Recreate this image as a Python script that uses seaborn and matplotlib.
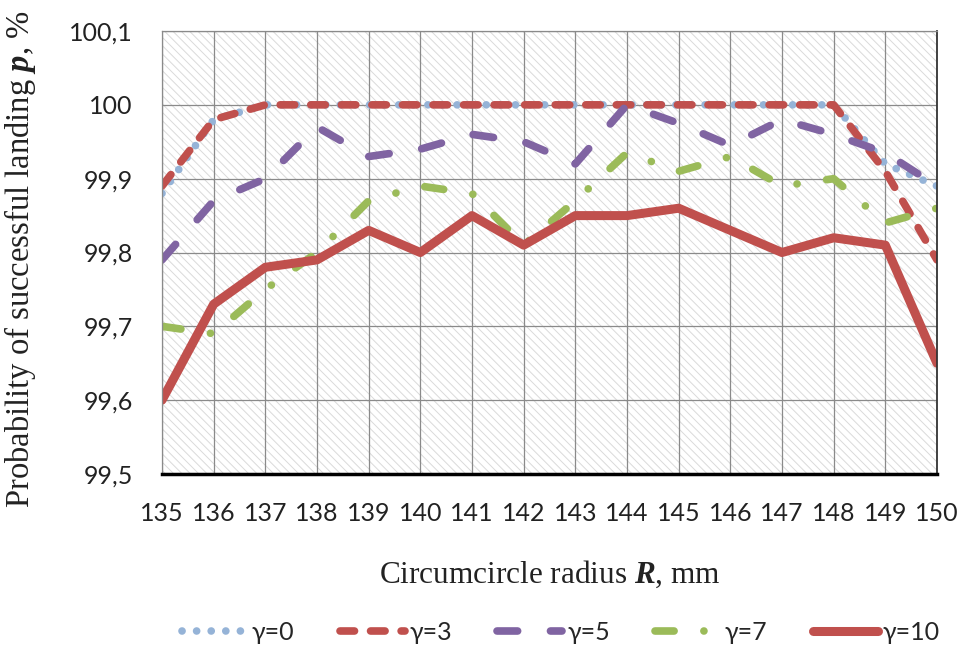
import numpy as np
import pandas as pd
import matplotlib
matplotlib.use("Agg")
import matplotlib.pyplot as plt
import seaborn as sns
from matplotlib.patches import Rectangle
from matplotlib.lines import Line2D
from matplotlib.ticker import FuncFormatter

# ---- data ----
radius = [135, 136, 137, 138, 139, 140, 141, 142, 143, 144, 145, 146, 147, 148, 149, 150]
p_g0 = [99.88, 99.98, 100, 100, 100, 100, 100, 100, 100, 100, 100, 100, 100, 100, 99.92, 99.89]
p_g3 = [99.89, 99.98, 100, 100, 100, 100, 100, 100, 100, 100, 100, 100, 100, 100, 99.91, 99.79]
p_g5 = [99.79, 99.87, 99.90, 99.97, 99.93, 99.94, 99.96, 99.95, 99.92, 100.0, 99.975, 99.945, 99.98, 99.96, 99.935, 99.89]
p_g7 = [99.70, 99.69, 99.75, 99.80, 99.87, 99.89, 99.88, 99.81, 99.87, 99.935, 99.91, 99.93, 99.89, 99.90, 99.84, 99.86]
p_g10 = [99.60, 99.73, 99.78, 99.79, 99.83, 99.80, 99.85, 99.81, 99.85, 99.85, 99.86, 99.83, 99.80, 99.82, 99.81, 99.65]
series_names = ["γ=0", "γ=3", "γ=5", "γ=7", "γ=10"]
y_ticks = [99.5, 99.6, 99.7, 99.8, 99.9, 100.0, 100.1]

df = pd.concat([
    pd.DataFrame({"R": radius, "p": vals, "gamma": name})
    for name, vals in zip(series_names, [p_g0, p_g3, p_g5, p_g7, p_g10])
])

palette = {"γ=0": "#95B3D7", "γ=3": "#C0504D", "γ=5": "#8064A2",
           "γ=7": "#9BBB59", "γ=10": "#C0504D"}
dashes = {"γ=0": (0.01, 1.9), "γ=3": (1.9, 2.1), "γ=5": (2.7, 4.3),
          "γ=7": (2.5, 3.9, 0.01, 3.9), "γ=10": ""}
widths = {"γ=0": 5.5, "γ=3": 5.5, "γ=5": 5.5, "γ=7": 5.5, "γ=10": 6.5}

sns.set_theme(style="white")
plt.rcParams["lines.dash_capstyle"] = "round"
plt.rcParams["lines.solid_capstyle"] = "round"
plt.rcParams["lines.solid_joinstyle"] = "round"
plt.rcParams["lines.dash_joinstyle"] = "round"
plt.rcParams["hatch.linewidth"] = 0.7
plt.rcParams["mathtext.fontset"] = "custom"
plt.rcParams["mathtext.bf"] = "Liberation Serif:italic:bold"
plt.rcParams["mathtext.rm"] = "Liberation Serif"

fig = plt.figure(figsize=(9.62, 6.6), dpi=100)
ax = fig.add_axes([0.1684, 0.2818, 0.8056, 0.6712])

# hatched plot background
ax.add_patch(Rectangle((0, 0), 1, 1, transform=ax.transAxes, facecolor="white",
                       edgecolor="#dadada", hatch="\\\\\\\\", linewidth=0, zorder=0.1))

sns.lineplot(data=df, x="R", y="p", hue="gamma", style="gamma",
             palette=palette, dashes=dashes, hue_order=series_names,
             style_order=series_names, linewidth=5.5, ax=ax, legend=False)
ax.lines[-1].set_linewidth(widths["γ=10"])

ax.set_xlim(135, 150)
ax.set_ylim(99.5, 100.1)
ax.set_xticks(radius)
ax.set_yticks(y_ticks)
ax.yaxis.set_major_formatter(FuncFormatter(
    lambda v, _: ("%.1f" % v).rstrip("0").rstrip(".").replace(".", ",")))
ax.grid(True, color="#8a8a8a", linewidth=0.9)
ax.set_axisbelow(True)
ax.tick_params(axis="x", length=0, labelsize=18, pad=20)
ax.tick_params(axis="y", length=0, labelsize=18, pad=21)
for lab in ax.get_xticklabels() + ax.get_yticklabels():
    lab.set_family("Lato")
    lab.set_color("#222222")

for side in ["top", "left"]:
    ax.spines[side].set_color("#8a8a8a")
    ax.spines[side].set_linewidth(0.9)
ax.spines["right"].set_color("#333333")
ax.spines["right"].set_linewidth(1.3)
ax.spines["bottom"].set_color("black")
ax.spines["bottom"].set_linewidth(2.5)

ax.set_xlabel(r"Circumcircle radius $\mathbf{R}$, mm", fontsize=22.5,
              family="Liberation Serif", color="#222222")
ax.set_ylabel(r"Probability of successful landing $\mathbf{p}$, %", fontsize=23.5,
              family="Liberation Serif", color="#222222")
ax.xaxis.set_label_coords(0.5, -0.19)
ax.yaxis.set_label_coords(-0.16, 0.485)

handles = []
for n in series_names:
    h = Line2D([], [], color=palette[n], linewidth=widths[n])
    if dashes[n]:
        h.set_dashes(dashes[n])
    handles.append(h)
fig.legend(handles, series_names, loc="center", bbox_to_anchor=(0.583, 0.042), ncol=5,
           frameon=False, handlelength=2.6, columnspacing=1.8, handletextpad=0.2,
           prop={"family": "Lato", "size": 18})

fig.savefig("out.png", dpi=100)
